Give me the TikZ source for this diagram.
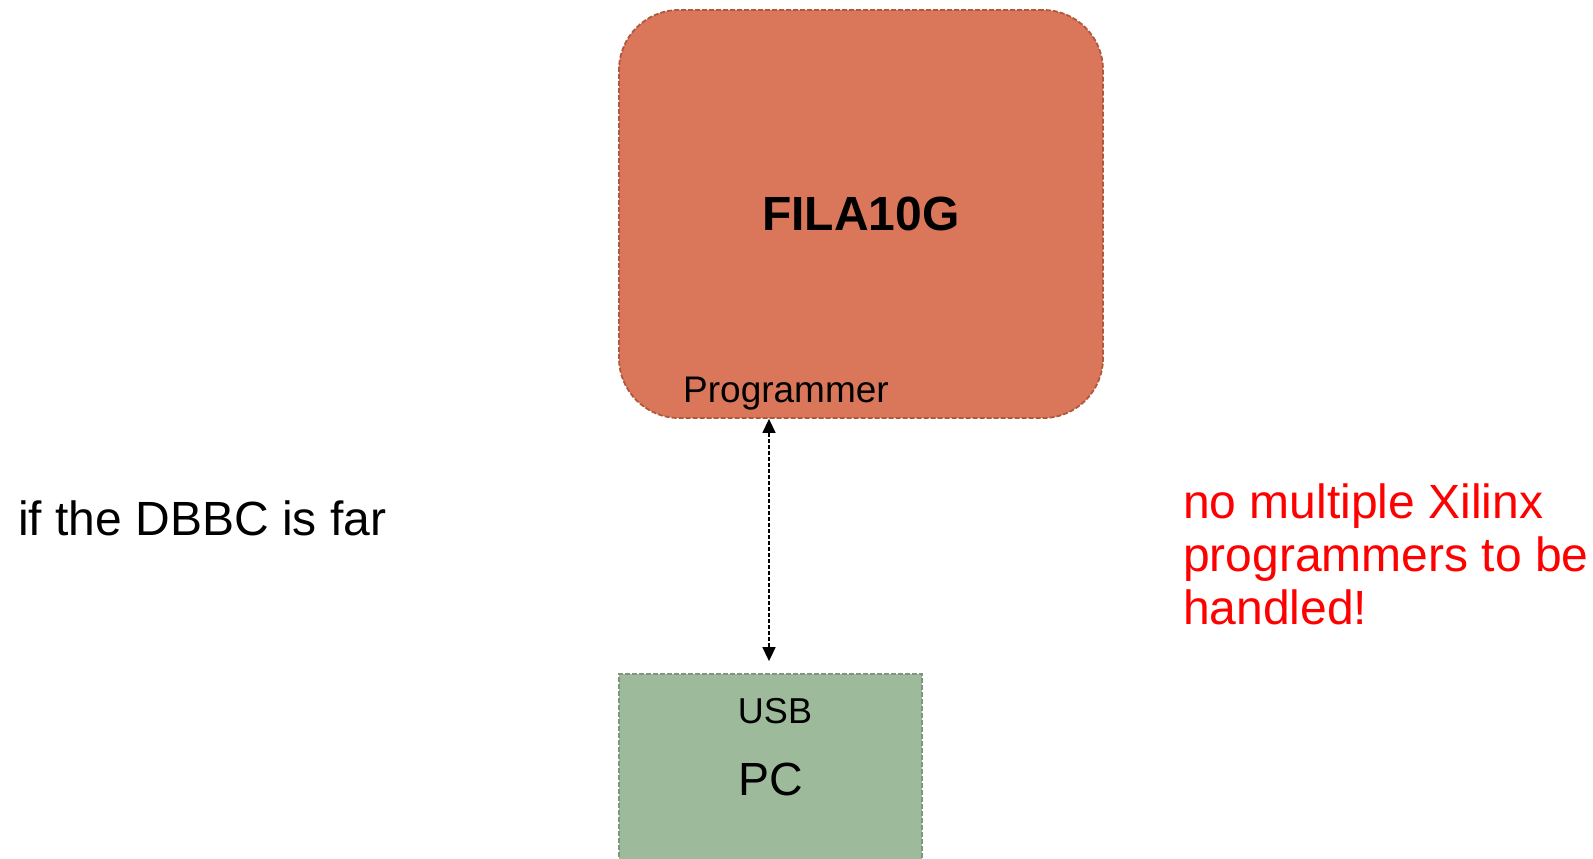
\documentclass[tikz,border=0pt]{standalone}
\usepackage{fontspec}
\setmainfont{Liberation Sans}
\usetikzlibrary{arrows.meta}
\definecolor{filafill}{HTML}{DA775A}
\definecolor{filaline}{HTML}{B0583F}
\definecolor{pcfill}{HTML}{9DBA9B}
\definecolor{pcline}{HTML}{7E967E}
\tikzset{
  filabox/.style={draw=filaline, fill=filafill, line width=1.8pt, dash pattern=on 5pt off 2pt,
    rounded corners=60pt, minimum width=484pt, minimum height=408pt, inner sep=0pt},
  pcbox/.style={draw=pcline, fill=pcfill, line width=1.8pt, dash pattern=on 5pt off 2pt,
    minimum width=303pt, minimum height=210pt, inner sep=0pt},
  conn/.style={draw=black, line width=1.5pt, dash pattern=on 4pt off 2pt,
    {Triangle[length=14pt,width=13pt]}-{Triangle[length=14pt,width=13pt]}},
  lbl/.style={inner sep=0pt, text=black}
}
\begin{document}
\begin{tikzpicture}[x=1pt,y=-1pt]
\useasboundingbox (0,0) rectangle (1593,859);
\begin{scope}
\clip (0,0) rectangle (1593,859);
\node[filabox, font=\fontsize{48}{54}\selectfont\bfseries] (fila) at (861,214) {FILA10G};
\node[lbl, anchor=base, font=\fontsize{37}{42}\selectfont] (prog) at (786,402) {Programmer};
\node[pcbox, font=\fontsize{46.5}{52}\selectfont] (pc) at (770.5,779) {PC};
\node[lbl, anchor=base, font=\fontsize{36}{42}\selectfont] (usb) at (775,723) {USB};
\coordinate (ax) at (769,0);
\draw[conn] (fila.south -| ax) -- ([yshift=12pt]pc.north -| ax);
\node[lbl, anchor=base west, font=\fontsize{48}{55}\selectfont] (far) at (18,535) {if the DBBC is far};
\node[lbl, anchor=north west, align=left, text=red, font=\fontsize{48}{53}\selectfont] (note) at (1183,484)
  {no multiple Xilinx\\programmers to be\\handled!};
\end{scope}
\end{tikzpicture}
\end{document}
